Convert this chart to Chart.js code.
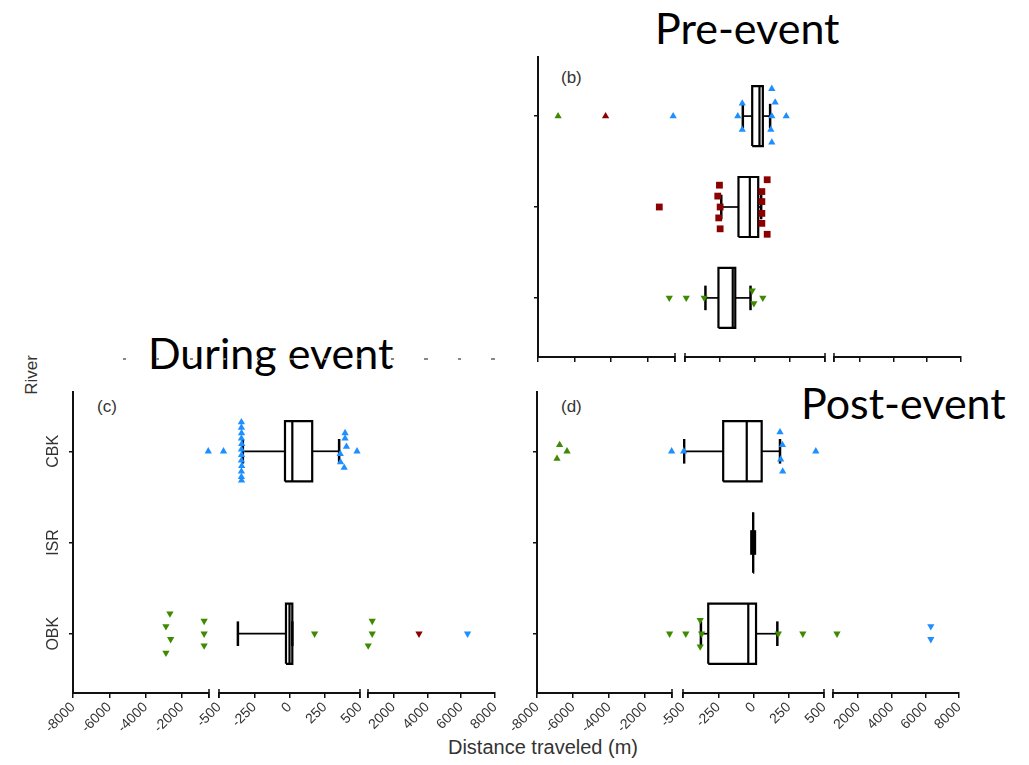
<!DOCTYPE html>
<html>
<head>
<meta charset="utf-8">
<title>Distance traveled by river</title>
<script src="https://cdn.jsdelivr.net/npm/chart.js@4.4.1/dist/chart.umd.min.js"></script>
<style>
  html, body { margin: 0; padding: 0; background: #fff; }
  #page { position: relative; width: 1029px; height: 765px; overflow: hidden; font-family: 'Liberation Sans', Arial, sans-serif; }
  #page canvas { position: absolute; }
  .title { position: absolute; font-family: Lato, 'Open Sans', sans-serif; font-size: 43px; line-height: 1; color: #000; white-space: nowrap; }
  .tag { position: absolute; font-size: 17px; line-height: 1; color: #333; }
  #xtitle { position: absolute; left: 393px; width: 300px; top: 737px; text-align: center; font-size: 20px; line-height: 1; color: #333; }
  #ytitle { position: absolute; left: 31px; top: 375px; font-size: 17px; line-height: 1; color: #333; transform: translate(-50%, -50%) rotate(-90deg); }
  #ghost { position: absolute; left: 123px; top: 358px; width: 372px; height: 2px;
           background: repeating-linear-gradient(to right, #888 0 3px, transparent 3px 33.5px); }
</style>
</head>
<body>
<div id="page">
  <div class="title" style="left:655px; top:6px;">Pre-event</div>
  <div class="title" style="left:148px; top:331px;">During event</div>
  <div class="title" style="left:801px; top:381px;">Post-event</div>
  <div class="tag" style="left:561px; top:69px;">(b)</div>
  <div class="tag" style="left:97px; top:398px;">(c)</div>
  <div class="tag" style="left:561px; top:398px;">(d)</div>
  <div id="ghost"></div>
  <div id="ytitle">River</div>
  <div id="xtitle">Distance traveled (m)</div>
</div>
<script>
// rows from the bottom: OBK = 1, ISR = 2, CBK = 3
const rivers = ['OBK', 'ISR', 'CBK'];
const colours = { B: '#1E8FFF', R: '#8B0000', G: '#3F8A00' };

// broken x axis: three pieces
const segRanges = [[-8000, -500], [-500, 500], [500, 8000]];
const leftTicks = [-8000, -6000, -4000, -2000, -500];
const leftLabels = ['-8000', '-6000', '-4000', '-2000', ''];
const midTicks = [-500, -250, 0, 250, 500];
const midLabels = ['-500', '-250', '0', '250', '500'];
const rightTicks = [500, 2000, 4000, 6000, 8000];
const rightLabels = ['', '2000', '4000', '6000', '8000'];

// box stats: [lower whisker, Q1, median, Q3, upper whisker]
const preBoxCBK = [-87, -20, 32, 56, 108];
const preBoxISR = [-241, -118, -37, 23, 44];
const preBoxOBK = [-354, -261, -159, -141, -32];
const duringBoxCBK = [-331, -32, 20, 161, 352];
const duringBoxISR = null;
const duringBoxOBK = [-366, -25, 0, 20, 20];
const postBoxCBK = [-492, -215, -48, 58, 188];
const postBoxISR = [-15, -3, -3, -2, 10];
const postBoxOBK = [-373, -321, -37, 18, 169];

// individual fish: [distance, vertical jitter, colour]
const preCBK = [[120, 0.30, 'B'], [-91, 0.14, 'B'], [144, 0.15, 'B'], [-123, 0, 'B'], [120, 0, 'B'],
  [223, 0, 'B'], [-91, -0.15, 'B'], [113, -0.15, 'B'], [120, -0.29, 'B'], [-600, 0, 'B'],
  [-4300, 0, 'R'], [-6900, 0, 'G']];
const preISR = [[87, 0.30, 'R'], [-254, 0.24, 'R'], [49, 0.17, 'R'], [-266, 0.12, 'R'], [49, 0.06, 'R'],
  [-249, 0, 'R'], [-259, -0.12, 'R'], [-249, -0.24, 'R'], [49, -0.07, 'R'], [49, -0.18, 'R'],
  [87, -0.30, 'R'], [-1360, 0, 'R']];
const preOBK = [[-812, 0, 'G'], [-491, 0, 'G'], [-363, 0, 'G'], [-20, 0.08, 'G'], [-8, -0.06, 'G'], [56, 0, 'G']];

const duringCBK = [[-341, 0.32, 'B'], [-341, 0.26, 'B'], [-340, 0.20, 'B'], [-341, 0.14, 'B'], [-339, 0.08, 'B'],
  [-341, 0.02, 'B'], [-340, -0.04, 'B'], [-341, -0.10, 'B'], [-339, -0.16, 'B'], [-341, -0.22, 'B'],
  [-341, -0.28, 'B'], [-340, -0.32, 'B'], [-540, 0, 'B'], [-468, 0, 'B'],
  [394, 0.20, 'B'], [394, 0.14, 'B'], [404, 0.05, 'B'], [360, -0.03, 'B'], [362, -0.12, 'B'],
  [388, -0.18, 'B'], [479, 0, 'B']];
const duringISR = [];
const duringOBK = [[-2654, 0.22, 'G'], [-2874, 0.08, 'G'], [-2615, -0.06, 'G'], [-2874, -0.21, 'G'],
  [-769, 0.14, 'G'], [-769, 0, 'G'], [-769, -0.13, 'G'], [178, 0, 'G'], [749, 0.14, 'G'], [749, 0, 'G'],
  [512, -0.13, 'G'], [3512, 0, 'R'], [6380, 0, 'B']];

const postCBK = [[-520, 0, 'B'], [-495, 0, 'B'], [188, 0.21, 'B'], [205, 0.07, 'B'], [193, -0.09, 'B'],
  [207, -0.22, 'B'], [442, 0, 'B'], [-6744, 0.07, 'G'], [-6333, 0, 'G'], [-6889, -0.08, 'G']];
const postISR = [];
const postOBK = [[-633, 0, 'G'], [-480, 0, 'G'], [-378, 0.15, 'G'], [-368, 0, 'G'], [-378, -0.14, 'G'],
  [176, 0, 'G'], [350, 0, 'G'], [737, 0, 'G'], [6323, 0.08, 'B'], [6323, -0.06, 'B']];

// marker per river row
const shapes = [
  { style: 'triangle', rotation: 180, radius: 4.2 },
  { style: 'rect', rotation: 0, radius: 4.8 },
  { style: 'triangle', rotation: 0, radius: 4.2 }
];
const BOX_HALF = 0.33;
const CAP_HALF = 0.135;

const panels = [
  { top: 57, bottom: 357, xs: [[538, 675], [685, 825], [834, 961]], labelled: false, rowNames: false,
    boxes: [preBoxOBK, preBoxISR, preBoxCBK], points: [preOBK, preISR, preCBK] },
  { top: 392, bottom: 693, xs: [[73, 209], [219, 360], [368, 495]], labelled: true, rowNames: true,
    boxes: [duringBoxOBK, duringBoxISR, duringBoxCBK], points: [duringOBK, duringISR, duringCBK] },
  { top: 392, bottom: 693, xs: [[537, 672], [683, 824], [833, 959]], labelled: true, rowNames: false,
    boxes: [postBoxOBK, postBoxISR, postBoxCBK], points: [postOBK, postISR, postCBK] }
];

const tickSets = [[leftTicks, leftLabels], [midTicks, midLabels], [rightTicks, rightLabels]];

function inSegment(v, s) {
  if (s === 0) return v < -500;
  if (s === 1) return v >= -500 && v <= 500;
  return v > 500;
}

function line(points, width) {
  return { data: points, showLine: true, pointRadius: 0, borderColor: '#000', borderWidth: width, fill: false };
}

function boxDatasets(b, row) {
  const [lo, q1, med, q3, hi] = b;
  return [
    line([{ x: med, y: row - BOX_HALF }, { x: med, y: row + BOX_HALF }], 2.2),
    line([{ x: q1, y: row - BOX_HALF }, { x: q3, y: row - BOX_HALF }, { x: q3, y: row + BOX_HALF },
          { x: q1, y: row + BOX_HALF }, { x: q1, y: row - BOX_HALF }], 2.2),
    line([{ x: lo, y: row }, { x: q1, y: row }], 1.7),
    line([{ x: q3, y: row }, { x: hi, y: row }], 1.7),
    line([{ x: lo, y: row - CAP_HALF }, { x: lo, y: row + CAP_HALF }], 2.5),
    line([{ x: hi, y: row - CAP_HALF }, { x: hi, y: row + CAP_HALF }], 2.5)
  ];
}

// river names written sideways next to the y ticks
const rowNamePlugin = {
  id: 'rowNames',
  afterDraw(chart) {
    const { ctx, scales: { y }, chartArea } = chart;
    ctx.save();
    ctx.font = "16px 'Liberation Sans', Arial, sans-serif";
    ctx.fillStyle = '#333';
    ctx.textAlign = 'center';
    ctx.textBaseline = 'middle';
    rivers.forEach((name, i) => {
      ctx.save();
      ctx.translate(chartArea.left - 19, y.getPixelForValue(i + 1));
      ctx.rotate(-Math.PI / 2);
      ctx.fillText(name, 0, 0);
      ctx.restore();
    });
    ctx.restore();
  }
};

// short bars across the axis where it breaks
const breakCapPlugin = {
  id: 'breakCaps',
  afterDraw(chart, args, opts) {
    const { ctx, chartArea } = chart;
    ctx.save();
    ctx.strokeStyle = '#111';
    ctx.lineWidth = 1.5;
    opts.ends.forEach(side => {
      const x = side === 'left' ? chartArea.left : chartArea.right;
      ctx.beginPath();
      ctx.moveTo(x, chartArea.bottom - 4);
      ctx.lineTo(x, chartArea.bottom + 5);
      ctx.stroke();
    });
    ctx.restore();
  }
};

const page = document.getElementById('page');

function segmentChart(panel, s) {
  const [x0, x1] = panel.xs[s];
  const [lo, hi] = segRanges[s];
  const [tickVals, tickText] = tickSets[s];
  const PL = 45, PR = 14, PT = 16;
  const H = panel.labelled ? 62 : 10;
  const canvas = document.createElement('canvas');
  canvas.width = PL + (x1 - x0) + PR;
  canvas.height = PT + (panel.bottom - panel.top) + H;
  canvas.style.left = (x0 - PL) + 'px';
  canvas.style.top = (panel.top - PT) + 'px';
  page.appendChild(canvas);

  const datasets = [];
  panel.points.forEach((pts, r) => {
    Object.keys(colours).forEach(c => {
      const data = pts.filter(p => p[2] === c && inSegment(p[0], s)).map(p => ({ x: p[0], y: r + 1 + p[1] }));
      if (!data.length) return;
      datasets.push({
        data,
        pointStyle: shapes[r].style,
        pointRotation: shapes[r].rotation,
        pointRadius: shapes[r].radius,
        backgroundColor: colours[c],
        borderColor: colours[c],
        borderWidth: 0,
        clip: false
      });
    });
  });
  if (s === 1) {
    panel.boxes.forEach((b, r) => { if (b) datasets.push(...boxDatasets(b, r + 1)); });
  }

  const plugins = [breakCapPlugin];
  if (panel.rowNames && s === 0) plugins.push(rowNamePlugin);
  const ends = [['right'], ['left', 'right'], ['left']][s];

  new Chart(canvas, {
    type: 'scatter',
    data: { datasets },
    plugins,
    options: {
      responsive: false,
      animation: false,
      events: [],
      layout: { autoPadding: false, padding: { left: PL, right: PR, top: PT, bottom: 0 } },
      plugins: { legend: { display: false }, tooltip: { enabled: false }, breakCaps: { ends } },
      scales: {
        x: {
          type: 'linear',
          position: 'bottom',
          min: lo,
          max: hi,
          afterBuildTicks: scale => { scale.ticks = tickVals.map(v => ({ value: v })); },
          afterFit: scale => { scale.height = H; scale.paddingLeft = 0; scale.paddingRight = 0; },
          grid: { display: true, drawOnChartArea: false, drawTicks: true, tickLength: 5, color: '#111', lineWidth: 1.5 },
          border: { display: true, color: '#111', width: 2 },
          ticks: {
            display: panel.labelled,
            autoSkip: false,
            minRotation: 45,
            maxRotation: 45,
            padding: 1,
            color: '#333',
            font: { family: "'Liberation Sans', Arial, sans-serif", size: 14 },
            callback: (v, i) => tickText[i]
          }
        },
        y: {
          type: 'linear',
          display: s === 0,
          min: 0.35,
          max: 3.65,
          afterBuildTicks: scale => { scale.ticks = [1, 2, 3].map(v => ({ value: v })); },
          afterFit: scale => { scale.width = 0; },
          grid: { display: true, drawOnChartArea: false, drawTicks: true, tickLength: 4, color: '#111', lineWidth: 1.5 },
          border: { display: true, color: '#111', width: 2 },
          ticks: { display: false }
        }
      }
    }
  });
}

panels.forEach(panel => [0, 1, 2].forEach(s => segmentChart(panel, s)));
</script>
</body>
</html>
